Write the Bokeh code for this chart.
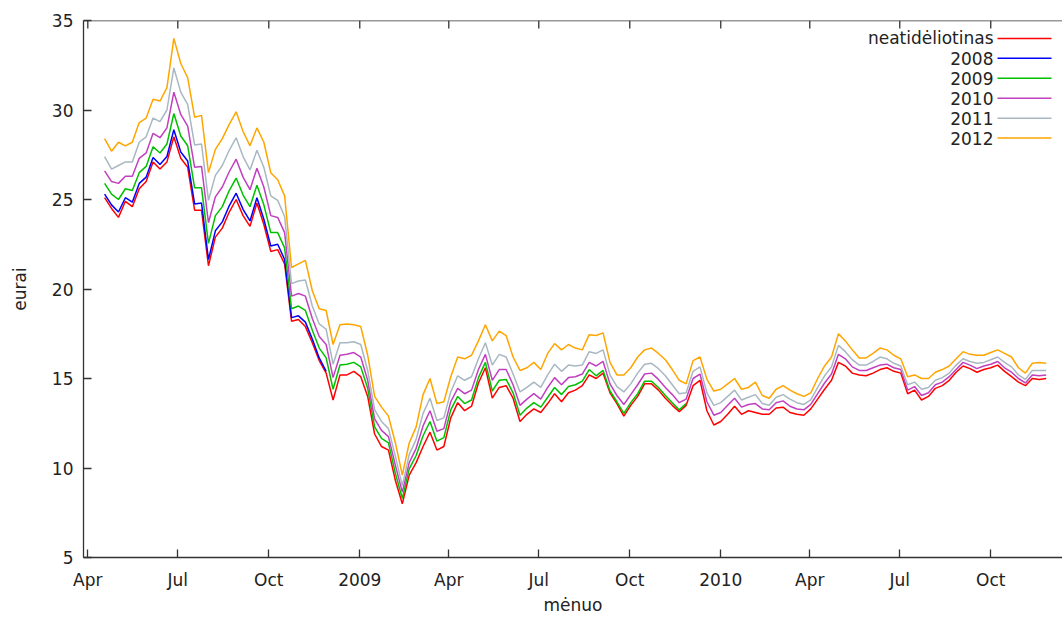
import pandas as pd
from bokeh.plotting import figure
from bokeh.models import Range1d, FixedTicker, Span
from bokeh.embed import file_html
from bokeh.resources import INLINE
from bokeh.core.properties import value

# ---------------- data (weekly readings, from 2008-04-18) ----------------
start_date = "2008-04-18"
n_weeks = 137
dates = pd.date_range(start_date, periods=n_weeks, freq="7D")

neatideliotinas = [
    25.1, 24.5, 24.0, 24.9, 24.6, 25.6, 26.0, 27.1, 26.7, 27.1,
    28.5, 27.3, 26.8, 24.4, 24.4, 21.3, 22.9, 23.4, 24.3, 25.0,
    24.1, 23.5, 24.8, 23.6, 22.1, 22.2, 21.4, 18.2, 18.3, 17.9,
    17.0, 16.0, 15.3, 13.8, 15.2, 15.2, 15.4, 15.1, 14.0, 11.9,
    11.2, 11.0, 9.3, 8.0, 9.6, 10.3, 11.2, 12.0, 11.0, 11.2,
    12.8, 13.65, 13.2, 13.45, 14.75, 15.6, 13.9, 14.5, 14.6, 13.9,
    12.6, 13.0, 13.3, 13.1, 13.6, 14.15, 13.7, 14.2, 14.35, 14.6,
    15.2, 15.0, 15.3, 14.2, 13.6, 12.9, 13.5, 14.0, 14.7, 14.7,
    14.35, 13.9, 13.5, 13.15, 13.5, 14.6, 14.9, 13.2, 12.4, 12.6,
    13.0, 13.45, 13.0, 13.2, 13.1, 13.0, 13.0, 13.35, 13.4, 13.1,
    13.0, 12.95, 13.3, 13.85, 14.4, 14.9, 15.9, 15.7, 15.3, 15.2,
    15.15, 15.3, 15.5, 15.6, 15.4, 15.3, 14.15, 14.35, 13.8, 14.0,
    14.45, 14.6, 14.9, 15.35, 15.7, 15.55, 15.35, 15.5, 15.6, 15.75,
    15.4, 15.1, 14.8, 14.6, 15.0, 14.95, 15.0,
]

y2008 = [
    25.3, 24.7, 24.3, 25.1, 24.85, 25.9, 26.25, 27.35, 26.95, 27.4,
    28.9, 27.65, 27.15, 24.75, 24.8, 21.65, 23.25, 23.75, 24.65, 25.35,
    24.45, 23.8, 25.1, 23.9, 22.4, 22.5, 21.65, 18.4, 18.5, 18.15,
    17.2, 16.15, 15.4,
]

y2009 = [
    25.9, 25.3, 25.0, 25.6, 25.5, 26.5, 26.85, 27.95, 27.6, 28.1,
    29.8, 28.55, 28.0, 25.65, 25.65, 22.55, 24.1, 24.6, 25.5, 26.2,
    25.25, 24.6, 25.8, 24.7, 23.15, 23.15, 22.3, 18.9, 19.05, 18.8,
    17.7, 16.7, 16.15, 14.4, 15.75, 15.8, 15.9, 15.65, 14.45, 12.3,
    11.65, 11.4, 9.7, 8.3, 9.95, 10.7, 11.8, 12.6, 11.5, 11.7,
    13.25, 14.0, 13.6, 13.8, 15.05, 15.9, 14.3, 14.9, 14.95, 14.2,
    12.95, 13.35, 13.65, 13.4, 13.95, 14.5, 14.1, 14.55, 14.65, 14.85,
    15.5, 15.15, 15.45, 14.3, 13.7, 13.05, 13.65, 14.15, 14.85, 14.85,
    14.5, 14.05, 13.65, 13.25, 13.6,
]

y2010 = [
    26.6, 26.0, 25.9, 26.3, 26.3, 27.3, 27.6, 28.7, 28.45, 29.0,
    31.0, 29.75, 29.1, 26.8, 26.85, 23.7, 25.15, 25.7, 26.55, 27.25,
    26.25, 25.55, 26.75, 25.7, 24.1, 24.0, 23.15, 19.6, 19.75, 19.6,
    18.35, 17.35, 16.9, 15.05, 16.3, 16.35, 16.45, 16.2, 14.9, 12.75,
    12.1, 11.75, 10.15, 8.65, 10.3, 11.1, 12.35, 13.2, 12.05, 12.2,
    13.7, 14.45, 14.15, 14.35, 15.5, 16.35, 14.9, 15.5, 15.5, 14.65,
    13.5, 13.85, 14.15, 13.85, 14.5, 15.05, 14.65, 15.05, 15.1, 15.25,
    15.9, 15.7, 15.95, 14.7, 14.05, 13.55, 14.1, 14.65, 15.25, 15.3,
    14.95, 14.5, 14.1, 13.65, 13.85, 15.0, 15.25, 13.7, 12.95, 13.1,
    13.5, 13.9, 13.4, 13.55, 13.6, 13.3, 13.25, 13.65, 13.75, 13.45,
    13.3, 13.25, 13.55, 14.15, 14.75, 15.25, 16.35, 16.1, 15.65, 15.45,
    15.45, 15.6, 15.75, 15.8, 15.6, 15.5, 14.35, 14.55, 14.05, 14.2,
    14.65, 14.8, 15.1, 15.5, 15.9, 15.75, 15.55, 15.7, 15.8, 15.95,
    15.6, 15.35, 15.0, 14.75, 15.2, 15.15, 15.2,
]

y2011 = [
    27.4, 26.7, 26.9, 27.1, 27.1, 28.2, 28.5, 29.55, 29.35, 30.0,
    32.35, 31.0, 30.3, 28.05, 28.1, 24.95, 26.35, 26.9, 27.75, 28.45,
    27.4, 26.65, 27.75, 26.8, 25.2, 24.95, 24.05, 20.3, 20.45, 20.5,
    19.05, 18.05, 17.75, 15.8, 17.0, 17.0, 17.05, 16.9, 15.45, 13.25,
    12.6, 12.2, 10.65, 9.0, 10.75, 11.6, 13.05, 13.9, 12.65, 12.8,
    14.25, 15.15, 14.9, 15.1, 16.1, 17.0, 15.75, 16.35, 16.2, 15.25,
    14.25, 14.5, 14.8, 14.5, 15.2, 15.8, 15.4, 15.75, 15.7, 15.75,
    16.5, 16.4, 16.6, 15.2, 14.55, 14.25, 14.7, 15.3, 15.8, 15.85,
    15.55, 15.15, 14.65, 14.15, 14.2, 15.4, 15.65, 14.2, 13.5, 13.65,
    14.0, 14.35, 13.8, 13.95, 14.1, 13.6, 13.5, 13.95, 14.1, 13.85,
    13.65, 13.55, 13.8, 14.5, 15.15, 15.65, 16.85, 16.5, 16.05, 15.75,
    15.75, 15.95, 16.2, 16.1, 15.85, 15.7, 14.65, 14.8, 14.4, 14.5,
    14.9, 15.05, 15.3, 15.75, 16.1, 15.95, 15.85, 15.9, 16.05, 16.2,
    15.9, 15.65, 15.2, 14.95, 15.45, 15.45, 15.45,
]

y2012 = [
    28.4, 27.7, 28.2, 28.0, 28.2, 29.3, 29.55, 30.6, 30.5, 31.25,
    34.0, 32.6, 31.8, 29.6, 29.7, 26.5, 27.8, 28.4, 29.2, 29.9,
    28.8, 28.0, 29.0, 28.2, 26.5, 26.1, 25.2, 21.2, 21.4, 21.6,
    19.9, 18.9, 18.8, 16.9, 18.0, 18.05, 18.0, 17.9, 16.3, 14.0,
    13.4, 12.9, 11.4, 9.6, 11.4, 12.3, 14.1, 15.0, 13.6, 13.7,
    15.1, 16.2, 16.1, 16.3, 17.1, 18.0, 17.1, 17.65, 17.4, 16.2,
    15.45, 15.6, 15.9, 15.5, 16.4, 16.95, 16.6, 16.9, 16.7, 16.6,
    17.45, 17.4, 17.55, 15.9, 15.2, 15.2, 15.6, 16.2, 16.6, 16.7,
    16.4, 16.05, 15.5, 14.9, 14.7, 16.0, 16.2, 14.95, 14.3, 14.4,
    14.7, 15.0, 14.4, 14.5, 14.8, 14.05, 13.9, 14.4, 14.6, 14.35,
    14.15, 14.0, 14.2, 15.0, 15.7, 16.2, 17.5, 17.1, 16.6, 16.15,
    16.15, 16.4, 16.7, 16.6, 16.3, 16.1, 15.1, 15.2, 15.0, 15.0,
    15.35, 15.5, 15.7, 16.1, 16.5, 16.35, 16.3, 16.3, 16.45, 16.6,
    16.4, 16.2, 15.6, 15.3, 15.85, 15.9, 15.85,
]

series_names = ["neatidėliotinas", "2008", "2009", "2010", "2011", "2012"]
series_values = [neatideliotinas, y2008, y2009, y2010, y2011, y2012]
series_colors = ["#ff0000", "#0000ff", "#00c000", "#c040c0", "#a8b8c2", "#ffa500"]

y_ticks = [5, 10, 15, 20, 25, 30, 35]
x_tick_dates = ["2008-04-01", "2008-07-01", "2008-10-01", "2009-01-01",
                "2009-04-01", "2009-07-01", "2009-10-01", "2010-01-01",
                "2010-04-01", "2010-07-01", "2010-10-01"]
x_tick_labels = ["Apr", "Jul", "Oct", "2009", "Apr", "Jul", "Oct", "2010",
                 "Apr", "Jul", "Oct"]

# ---------------- layout ----------------
FONT = "DejaVu Sans"
FS = "17px"
TXT = "#222222"
AX = "#333333"

W, H = 1062, 617
ML, MR, MT, MB = 83, 0, 20, 58
frame_l, frame_r = ML, W - MR
frame_t, frame_b = MT, H - MB


def to_ms(t):
    return pd.Timestamp(t).value / 1e6


DAY = 86400000.0
px_per_day = 0.989
apr1 = to_ms("2008-04-01")
x0 = apr1 - (87.3 - frame_l) / px_per_day * DAY
x1 = x0 + (frame_r - frame_l) / px_per_day * DAY
y0, y1 = 5, 35
tick_len_px = 8


def px_x(px):
    return x0 + (px - frame_l) / (frame_r - frame_l) * (x1 - x0)


def px_y(py):
    return y1 - (py - frame_t) / (frame_b - frame_t) * (y1 - y0)


p = figure(width=W, height=H, x_axis_type="datetime",
           x_range=Range1d(x0, x1), y_range=Range1d(y0, y1),
           output_backend="svg", toolbar_location=None,
           min_border_left=ML, min_border_right=MR,
           min_border_top=MT, min_border_bottom=MB)
p.outline_line_color = None
p.xgrid.visible = False
p.ygrid.visible = False
p.background_fill_color = "white"
p.border_fill_color = "white"

tick_ms = [int(pd.Timestamp(d).value // 10**6) for d in x_tick_dates]

xa = p.below[0]
xa.ticker = FixedTicker(ticks=tick_ms)
xa.major_label_overrides = dict(zip(tick_ms, x_tick_labels))
ya = p.left[0]
ya.ticker = FixedTicker(ticks=y_ticks)

for ax in (xa, ya):
    ax.major_tick_in = tick_len_px
    ax.major_tick_out = 0
    ax.minor_tick_in = 0
    ax.minor_tick_out = 0
    ax.axis_line_color = AX
    ax.axis_line_width = 1.3
    ax.major_tick_line_color = AX
    ax.major_tick_line_width = 1.3
    ax.major_label_text_font = FONT
    ax.major_label_text_font_size = FS
    ax.major_label_text_color = TXT
    ax.axis_label_text_font = FONT
    ax.axis_label_text_font_size = FS
    ax.axis_label_text_font_style = "normal"
    ax.axis_label_text_color = TXT

xa.axis_label = "mėnuo"
xa.major_label_standoff = 12
xa.axis_label_standoff = 2
ya.axis_label = "eurai"
ya.major_label_standoff = 10
ya.axis_label_standoff = 19

# top border with inward ticks (gnuplot box style)
p.add_layout(Span(location=y1, dimension="width", line_color=AX, line_width=1.3))
tick_dy = tick_len_px * (y1 - y0) / (frame_b - frame_t)
p.segment(x0=tick_ms, y0=[y1] * len(tick_ms), x1=tick_ms,
          y1=[y1 - tick_dy] * len(tick_ms), line_color=AX, line_width=1.3)

for vals, col in zip(series_values, series_colors):
    p.line(dates[:len(vals)], vals, line_color=col, line_width=1.5)

# legend (gnuplot style: text right-aligned, sample line on the right)
rows_py = [38 + 20 * i for i in range(len(series_names))]
leg_y = [px_y(py) for py in rows_py]
p.text(x=[px_x(993)] * len(series_names), y=leg_y, text=series_names,
       text_align="right", text_baseline="middle",
       text_font=value(FONT), text_font_size=FS, text_color=TXT)
p.segment(x0=[px_x(997)] * len(series_names), y0=leg_y,
          x1=[px_x(1051)] * len(series_names), y1=leg_y,
          line_color=series_colors, line_width=1.5)

open("out.html", "w").write(file_html(p, INLINE))
